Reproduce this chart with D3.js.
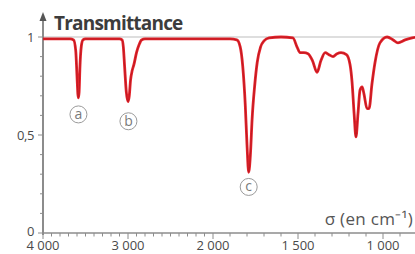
<!DOCTYPE html>
<html>
<head>
<meta charset="utf-8">
<script src="https://cdn.jsdelivr.net/npm/d3@7"></script>
<style>
  body { margin: 0; background: #fff; }
  svg { display: block; font-family: "Open Sans", sans-serif; }
</style>
</head>
<body>
<div id="chart"></div>
<script>
// --------------------------------------
//  Data
// --------------------------------------

const waveNumbers = [
  4000, 3800, 3680, 3640, 3615, 3600, 3590, 3583, 3575, 3565, 3550, 3530, 3500,
  3300, 3100, 3070, 3055, 3040, 3020, 3000, 2985, 2970, 2950, 2930, 2900, 2870, 2840, 2800,
  2400, 2000, 1900, 1860, 1840, 1825, 1810, 1800, 1790, 1780, 1770, 1755, 1740, 1720, 1700, 1670,
  1600, 1530, 1506, 1488, 1465, 1441, 1415, 1388, 1365, 1340, 1318, 1294, 1270, 1247, 1215,
  1194, 1182, 1170, 1159, 1147, 1135, 1123, 1112, 1094, 1082, 1065, 1047, 1018, 976, 940, 912, 870, 829, 800
];

const transmittance = [
  0.99, 0.99, 0.99, 0.985, 0.93, 0.80, 0.71, 0.69, 0.72, 0.85, 0.95, 0.985, 0.99,
  0.99, 0.99, 0.985, 0.95, 0.85, 0.72, 0.67, 0.70, 0.78, 0.83, 0.86, 0.92, 0.96, 0.985, 0.99,
  0.99, 0.99, 0.99, 0.985, 0.95, 0.85, 0.65, 0.45, 0.31, 0.40, 0.58, 0.75, 0.87, 0.95, 0.98, 0.995,
  1.0, 0.995, 0.95, 0.92, 0.92, 0.915, 0.88, 0.82, 0.88, 0.92, 0.91, 0.90, 0.915, 0.92, 0.91,
  0.86, 0.77, 0.61, 0.49, 0.61, 0.73, 0.745, 0.71, 0.635, 0.635, 0.76, 0.87, 0.97, 1.0, 0.985, 0.97, 0.985, 0.995, 1.0
];

const xTickLabels = [4000, 3000, 2000, 1500, 1000];
const yTickLabels = [0, 0.5, 1];

const peakNames = ["a", "b", "c"];
const peakWaveNumbers = [3583, 2995, 1790];
const peakLabelT = [0.605, 0.57, 0.235];

// --------------------------------------
//  Canvas and scales
// --------------------------------------

const width = 415;
const height = 254;

const svg = d3.select("#chart")
  .append("svg")
    .attr("width", width)
    .attr("height", height);

// the spectrum scale doubles below 2000 cm-1
const x = d3.scaleLinear()
    .domain([4000, 2000, 800])
    .range([43, 213, 417]);

const y = d3.scaleLinear()
    .domain([0, 1])
    .range([233, 37]);

const fmt = d => d3.format(",")(d).replace(",", " ").replace(".", ",");

// --------------------------------------
//  Axes
// --------------------------------------

const grey = "#8c8c8c";
const textGrey = "#4a4a4a";

// reference line at T = 1
svg.append("line")
    .attr("x1", x(4000)).attr("x2", width)
    .attr("y1", y(1)).attr("y2", y(1))
    .attr("stroke", "#bdbdbd")
    .attr("stroke-width", 1.2);

const xAxis = svg.append("g")
    .attr("transform", `translate(0, ${y(0)})`);

xAxis.append("line")
    .attr("x1", x(4000)).attr("x2", width)
    .attr("stroke", grey).attr("stroke-width", 1.5);

xAxis.selectAll(".minor")
  .data(d3.range(4000, 799, -100))
  .join("line")
    .attr("x1", d => x(d)).attr("x2", d => x(d))
    .attr("y1", 0)
    .attr("y2", d => xTickLabels.includes(d) ? 6 : 3.5)
    .attr("stroke", grey).attr("stroke-width", 1);

xAxis.selectAll(".xlabel")
  .data(xTickLabels)
  .join("text")
    .attr("x", d => x(d))
    .attr("y", 17)
    .attr("text-anchor", "middle")
    .attr("font-size", 13)
    .attr("fill", textGrey)
    .text(d => fmt(d));

const yAxis = svg.append("g")
    .attr("transform", `translate(${x(4000)}, 0)`);

yAxis.append("line")
    .attr("y1", y(0) + 2).attr("y2", 18)
    .attr("stroke", grey).attr("stroke-width", 2);

yAxis.append("path")
    .attr("d", "M0,12 L-3.5,21 L3.5,21 Z")
    .attr("fill", "#555");

yAxis.selectAll(".ytick")
  .data(d3.range(0, 11))
  .join("line")
    .attr("y1", d => y(d / 10)).attr("y2", d => y(d / 10))
    .attr("x1", 0)
    .attr("x2", d => d % 5 === 0 ? -5 : -3)
    .attr("stroke", grey).attr("stroke-width", 1);

yAxis.selectAll(".ylabel")
  .data(yTickLabels)
  .join("text")
    .attr("x", -9)
    .attr("y", d => y(d) + (d === 0 ? 3 : 4.5))
    .attr("text-anchor", "end")
    .attr("font-size", 13)
    .attr("fill", textGrey)
    .attr("letter-spacing", -0.4)
    .text(d => fmt(d));

svg.append("text")
    .attr("x", 54)
    .attr("y", 30)
    .attr("font-size", 19)
    .attr("font-weight", "bold")
    .attr("fill", "#3c3c3c")
    .attr("letter-spacing", -0.8)
    .text("Transmittance");

svg.append("text")
    .attr("x", 413)
    .attr("y", 225)
    .attr("text-anchor", "end")
    .attr("font-size", 17)
    .attr("fill", "#555")
    .attr("letter-spacing", 0.3)
    .text("σ (en cm⁻¹)");

// --------------------------------------
//  Spectrum
// --------------------------------------

const points = waveNumbers.map((w, i) => [w, transmittance[i]]);

const line = d3.line()
    .x(d => x(d[0]))
    .y(d => y(d[1]))
    .curve(d3.curveMonotoneX);

svg.append("path")
    .attr("d", line(points))
    .attr("fill", "none")
    .attr("stroke", "#e5242c")
    .attr("stroke-width", 2.8)
    .attr("stroke-linejoin", "round");

svg.append("path")
    .attr("d", line(points))
    .attr("fill", "none")
    .attr("stroke", "#b3161e")
    .attr("stroke-width", 0.8)
    .attr("stroke-linejoin", "round");

// --------------------------------------
//  Peak labels
// --------------------------------------

const peaks = svg.selectAll(".peak")
  .data(peakNames)
  .join("g")
    .attr("transform", (d, i) => `translate(${x(peakWaveNumbers[i])}, ${y(peakLabelT[i])})`);

peaks.append("circle")
    .attr("r", 8.5)
    .attr("fill", "#fff")
    .attr("stroke", "#9a9a9a")
    .attr("stroke-width", 1);

peaks.append("text")
    .attr("y", 4.5)
    .attr("text-anchor", "middle")
    .attr("font-size", 14)
    .attr("fill", "#7a7a7a")
    .text(d => d);
</script>
</body>
</html>
